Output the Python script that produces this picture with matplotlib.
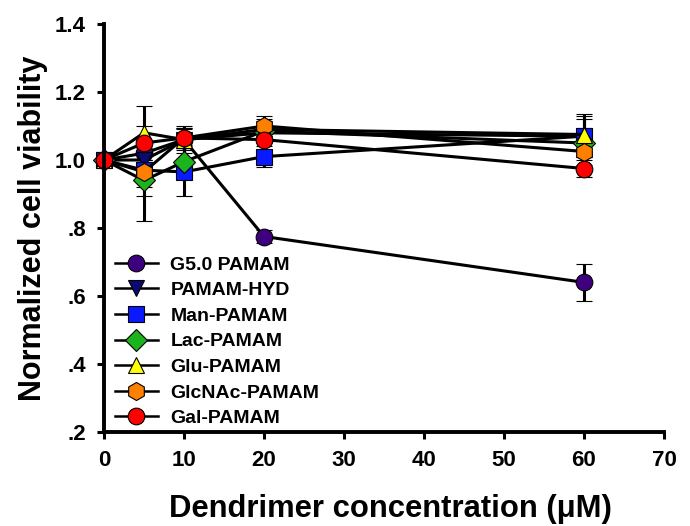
import matplotlib
matplotlib.use("Agg")
import matplotlib.pyplot as plt

plt.rcParams['font.family'] = ['Liberation Sans', 'DejaVu Sans']
plt.rcParams['font.weight'] = 'bold'

conc = [0, 5, 10, 20, 60]
names = ["G5.0 PAMAM", "PAMAM-HYD", "Man-PAMAM", "Lac-PAMAM", "Glu-PAMAM", "GlcNAc-PAMAM", "Gal-PAMAM"]
g50 = [1.0, 1.02, 1.06, 0.775, 0.64]
g50_err = [0.0, 0.02, 0.02, 0.02, 0.055]
hyd = [1.0, 1.0, 1.06, 1.08, 1.07]
hyd_err = [0.0, 0.03, 0.03, 0.03, 0.06]
man = [1.0, 0.97, 0.965, 1.01, 1.07]
man_err = [0.0, 0.05, 0.07, 0.03, 0.05]
lac = [1.0, 0.94, 0.995, 1.085, 1.05]
lac_err = [0.0, 0.12, 0.05, 0.03, 0.04]
glu = [1.0, 1.08, 1.06, 1.09, 1.075]
glu_err = [0.0, 0.08, 0.04, 0.03, 0.06]
glc = [1.0, 0.965, 1.065, 1.10, 1.025]
glc_err = [0.0, 0.07, 0.03, 0.03, 0.04]
gal = [1.0, 1.05, 1.065, 1.06, 0.975]
gal_err = [0.0, 0.05, 0.03, 0.03, 0.025]

series = [g50, hyd, man, lac, glu, glc, gal]
errors = [g50_err, hyd_err, man_err, lac_err, glu_err, glc_err, gal_err]
markers = ['o', 'v', 's', 'D', '^', 'h', 'o']
colors = ['#3f0080', '#0a0a70', '#0a1aff', '#1db31d', '#ffff00', '#ff8000', '#ff0000']
msizes = [12, 12, 11, 11, 12, 13, 12]

fig = plt.figure(figsize=(6.9, 5.26), dpi=100)
ax = fig.add_axes([104/690, 1-432/526, 560/690, 408/526])

for y, e, m, c, ms, n in zip(series, errors, markers, colors, msizes, names):
    ax.errorbar(conc, y, yerr=e, marker=m, color='black', markerfacecolor=c,
                markeredgecolor='black', markeredgewidth=0.8, markersize=ms,
                linewidth=2.2, elinewidth=2.2, capsize=6, capthick=2.2,
                label=n, clip_on=False)

ax.set_xlim(0, 70)
ax.set_ylim(0.2, 1.4)
ax.set_xticks(range(0, 71, 10))
ax.set_yticks([0.2, 0.4, 0.6, 0.8, 1.0, 1.2, 1.4])
ax.set_yticklabels(['.2', '.4', '.6', '.8', '1.0', '1.2', '1.4'])
for s in ['top', 'right']:
    ax.spines[s].set_visible(False)
for s in ['left', 'bottom']:
    ax.spines[s].set_linewidth(2.8)
ax.tick_params(axis='both', width=2.2, length=5, labelsize=16, direction='out', pad=8)
for lab in ax.get_xticklabels() + ax.get_yticklabels():
    lab.set_fontweight('bold')

ax.set_xlabel('Dendrimer concentration (μM)', fontsize=22.3, fontweight='bold')
ax.xaxis.set_label_coords(0.511, -0.152)
ax.set_ylabel('Normalized cell viability', fontsize=22, fontweight='bold', labelpad=5)

handles, labels = ax.get_legend_handles_labels()
handles = [h[0] for h in handles]
leg = ax.legend(handles, labels, loc='lower left', bbox_to_anchor=(0.011, 0.0), frameon=False,
                prop={'weight': 'bold', 'size': 14}, handlelength=2.2,
                labelspacing=0.41, borderaxespad=0.05, handletextpad=0.65,
                borderpad=0.2)
for h in leg.get_lines():
    h.set_linewidth(1.8)

fig.savefig('out.png', dpi=100)
